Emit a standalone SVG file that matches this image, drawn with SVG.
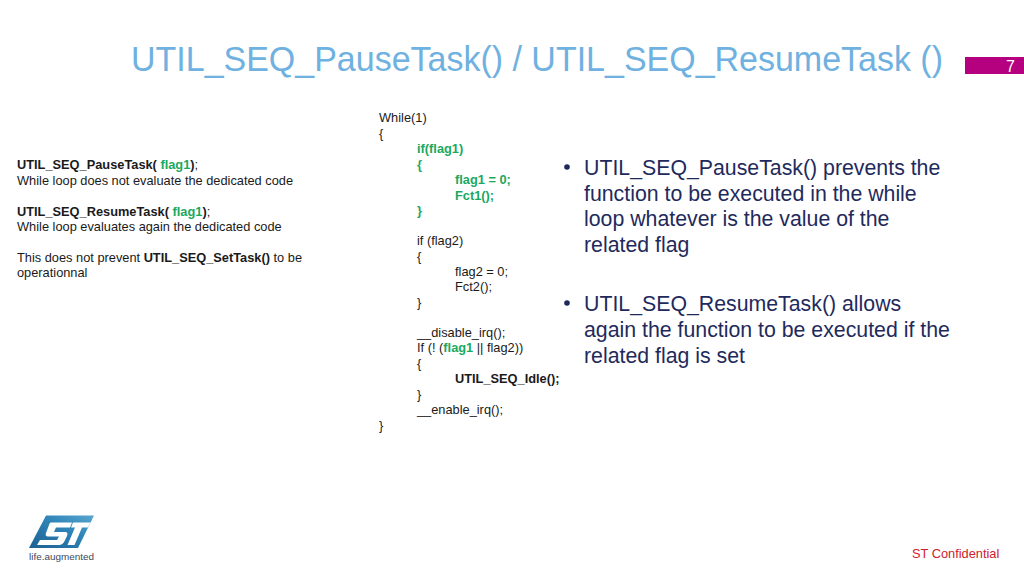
<svg xmlns="http://www.w3.org/2000/svg" width="1024" height="576" viewBox="0 0 1024 576">
<style>
text{font-family:"Liberation Sans",Arial,sans-serif}
.c{font-size:12.8px;fill:#1a1a1a}
.b{font-weight:bold}
.g{fill:#1aa860}
.m{font-size:21.3px;fill:#1f2a5c}
</style>
<defs><linearGradient id="lg" x1="0" y1="1" x2="1" y2="0"><stop offset="0" stop-color="#1d5f93"/><stop offset="0.6" stop-color="#2f86b8"/><stop offset="1" stop-color="#5aa7d0"/></linearGradient></defs>
<rect width="1024" height="576" fill="#fff"/>
<text x="131" y="71" font-size="34.2" fill="#6fb1e0" textLength="812" lengthAdjust="spacingAndGlyphs">UTIL_SEQ_PauseTask() / UTIL_SEQ_ResumeTask ()</text>
<rect x="965" y="57" width="59" height="17" fill="#b5007f"/>
<text x="1006" y="71.500" font-size="16" fill="#fff">7</text>

<g id="left-notes">
<text class="c" x="17" y="169"><tspan class="b">UTIL_SEQ_PauseTask( </tspan><tspan class="b g">flag1</tspan><tspan class="b">)</tspan>;</text>
<text class="c" x="17" y="185">While loop does not evaluate the dedicated code</text>
<text class="c" x="17" y="216"><tspan class="b">UTIL_SEQ_ResumeTask( </tspan><tspan class="b g">flag1</tspan><tspan class="b">)</tspan>;</text>
<text class="c" x="17" y="231">While loop evaluates again the dedicated code</text>
<text class="c" x="17" y="262">This does not prevent <tspan class="b">UTIL_SEQ_SetTask()</tspan> to be</text>
<text class="c" x="17" y="277">operationnal</text>
</g>

<g id="code">
<text class="c" x="379" y="122">While(1)</text>
<text class="c" x="379" y="138">{</text>
<text class="c b g" x="417" y="153">if(flag1)</text>
<text class="c b g" x="417" y="169">{</text>
<text class="c b g" x="455" y="184">flag1 = 0;</text>
<text class="c b g" x="455" y="200">Fct1();</text>
<text class="c b g" x="417" y="215">}</text>
<text class="c" x="417" y="245">if (flag2)</text>
<text class="c" x="417" y="261">{</text>
<text class="c" x="455" y="276">flag2 = 0;</text>
<text class="c" x="455" y="291">Fct2();</text>
<text class="c" x="417" y="307">}</text>
<text class="c" x="417" y="337">__disable_irq();</text>
<text class="c" x="417" y="352">If (! (<tspan class="b g">flag1</tspan> || flag2))</text>
<text class="c" x="417" y="368">{</text>
<text class="c b" x="455" y="383">UTIL_SEQ_Idle();</text>
<text class="c" x="417" y="399">}</text>
<text class="c" x="417" y="414">__enable_irq();</text>
<text class="c" x="379" y="430">}</text>
</g>

<g id="bullets">
<circle cx="567" cy="167" r="2.800" fill="#1f2a5c"/>
<text class="m" x="584" y="175">UTIL_SEQ_PauseTask() prevents the</text>
<text class="m" x="584" y="201">function to be executed in the while</text>
<text class="m" x="584" y="226">loop whatever is the value of the</text>
<text class="m" x="584" y="252">related flag</text>
<circle cx="567" cy="303" r="2.800" fill="#1f2a5c"/>
<text class="m" x="584" y="311">UTIL_SEQ_ResumeTask() allows</text>
<text class="m" x="584" y="337">again the function to be executed if the</text>
<text class="m" x="584" y="363">related flag is set</text>
</g>

<g id="logo">
<path d="M46 515.500H94L78 548H29Z" fill="url(#lg)"/>
<path d="M51 522.500H72L70 527.500H56L54 532H65C67.500 532 68 534 67 536L64 542C63 544 61 545 59 545H37L40 540H57L59 536.500H48C46 536.500 45 535 46 533L49 525C49.500 523.500 50 522.500 51 522.500Z" fill="#fff"/>
<path d="M73 522.500H90.500L88 527.500H82L74.500 545H67.500L75 527.500H71Z" fill="#fff"/>
<text x="29" y="560" font-size="9.500" fill="#3b4a5a" textLength="65" lengthAdjust="spacingAndGlyphs">life.augmented</text>
</g>

<text x="912" y="558" font-size="12.800" fill="#d0202e">ST Confidential</text>
</svg>
